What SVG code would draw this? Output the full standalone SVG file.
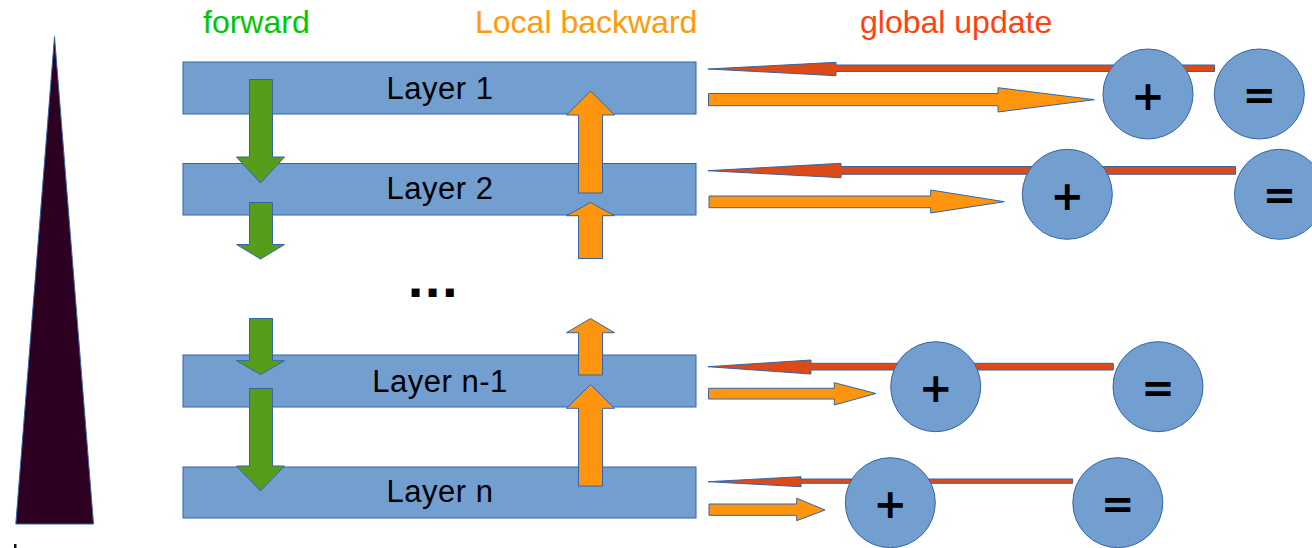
<svg xmlns="http://www.w3.org/2000/svg" width="1312" height="548" viewBox="0 0 1312 548">
  <style>
    .title { font-family: "Liberation Sans", Arial, sans-serif; font-size: 32px; }
    .layer { fill: #729fcf; stroke: #3465a4; stroke-width: 1; }
    .label { font-family: "Liberation Sans", Arial, sans-serif; font-size: 31px; letter-spacing: 0.5px; fill: #000; text-anchor: middle; }
    .op { fill: #729fcf; stroke: #3465a4; stroke-width: 1; }
    .sym { font-family: "DejaVu Sans", sans-serif; font-weight: bold; font-size: 40px; fill: #000; text-anchor: middle; }
    .fwd { fill: #579d1c; stroke: #3465a4; stroke-width: 1; }
    .bwd { fill: #ff950e; stroke: #3465a4; stroke-width: 1; }
    .upd { fill: #dc4a17; stroke: #3465a4; stroke-width: 1; }
  </style>

  <!-- depth wedge -->
  <g id="depth">
    <polygon points="54.5,36.5 15.8,524 93.5,524" fill="#2d0022" stroke="#3465a4" stroke-width="1"/>
    <rect x="14" y="544" width="2.5" height="4" fill="#111"/>
  </g>

  <!-- column headings -->
  <g id="headings">
    <text class="title" x="203" y="33" fill="#00c800">forward</text>
    <text class="title" x="475" y="33" fill="#ff9a0a">Local backward</text>
    <text class="title" x="860" y="33" fill="#ff420e">global update</text>
  </g>

  <!-- layers -->
  <g id="layer-1">
    <rect class="layer" x="183" y="62" width="513" height="52"/>
    <text class="label" x="440" y="99.3">Layer 1</text>
  </g>
  <g id="layer-2">
    <rect class="layer" x="183" y="163.5" width="513" height="51.5"/>
    <text class="label" x="440" y="199.3">Layer 2</text>
  </g>
  <g id="ellipsis">
    <text x="407" y="297" font-family="DejaVu Sans, sans-serif" font-weight="bold" font-size="45" fill="#000">...</text>
  </g>
  <g id="layer-n-1">
    <rect class="layer" x="183" y="355" width="513" height="52"/>
    <text class="label" x="440" y="391.7">Layer n-1</text>
  </g>
  <g id="layer-n">
    <rect class="layer" x="183" y="467" width="513" height="51"/>
    <text class="label" x="440" y="502.3">Layer n</text>
  </g>

  <!-- connectors -->
  <g id="connectors">
    <!-- forward pass (down) -->
    <polygon class="fwd" points="249.5,79.5 272.5,79.5 272.5,157 284.5,157 260.5,183 236.5,157 249.5,157"/>
    <polygon class="fwd" points="249.5,202.5 272.5,202.5 272.5,244.5 284.5,244.5 260.5,259 236.5,244.5 249.5,244.5"/>
    <polygon class="fwd" points="249.5,318.5 272.5,318.5 272.5,360.7 284.5,360.7 260.5,374.5 236.5,360.7 249.5,360.7"/>
    <polygon class="fwd" points="249.5,388.5 272.5,388.5 272.5,466 284.5,466 260.5,491 236.5,466 249.5,466"/>

    <!-- local backward pass (up) -->
    <polygon class="bwd" points="590.5,91 614.5,115 602.5,115 602.5,193 578.5,193 578.5,115 566.5,115"/>
    <polygon class="bwd" points="590.5,202.5 614.5,215.7 602.5,215.7 602.5,258.5 578.5,258.5 578.5,215.7 566.5,215.7"/>
    <polygon class="bwd" points="590.5,318.5 614.5,332.7 602.5,332.7 602.5,375 578.5,375 578.5,332.7 566.5,332.7"/>
    <polygon class="bwd" points="590.5,384.5 614.5,408.3 602.5,408.3 602.5,486 578.5,486 578.5,408.3 566.5,408.3"/>

    <!-- global update (back into layers) -->
    <polygon class="upd" points="708,69 836,62.3 836,65 1214.5,65 1214.5,71.5 836,71.5 836,75.7"/>
    <polygon class="upd" points="708,170.7 841,163.3 841,166.5 1235.5,166.5 1235.5,174.3 841,174.3 841,177.7"/>
    <polygon class="upd" points="708,366.7 811,360 811,363.3 1113.3,363.3 1113.3,370 811,370 811,374"/>
    <polygon class="upd" points="708,481.7 801,476.7 801,479 1072.7,479 1072.7,483.3 801,483.3 801,486.7"/>

    <!-- gradients out to the accumulators -->
    <polygon class="bwd" points="708.5,93.5 998,93.5 998,87.7 1094.3,99.7 998,112 998,105.7 708.5,105.7"/>
    <polygon class="bwd" points="709,196 930.7,196 930.7,190 1004.3,201.7 930.7,213 930.7,207.7 709,207.7"/>
    <polygon class="bwd" points="708.5,388.3 834.3,388.3 834.3,382.7 876,393.5 834.3,405 834.3,399 708.5,399"/>
    <polygon class="bwd" points="709,504 796.7,504 796.7,498.3 825,510 796.7,520.7 796.7,515.3 709,515.3"/>
  </g>

  <!-- accumulate / assign operators -->
  <g id="plus-1"><circle class="op" cx="1148" cy="94" r="45"/><text class="sym" x="1148" y="109.5">+</text></g>
  <g id="eq-1"><circle class="op" cx="1259.3" cy="94" r="45"/><text class="sym" x="1259.3" y="109">=</text></g>
  <g id="plus-2"><circle class="op" cx="1067.3" cy="194.3" r="45"/><text class="sym" x="1067.3" y="209.8">+</text></g>
  <g id="eq-2"><circle class="op" cx="1279.5" cy="194.3" r="45"/><text class="sym" x="1279.5" y="209.3">=</text></g>
  <g id="plus-n-1"><circle class="op" cx="935.7" cy="386.7" r="45"/><text class="sym" x="935.7" y="402.2">+</text></g>
  <g id="eq-n-1"><circle class="op" cx="1158" cy="386.7" r="45"/><text class="sym" x="1158" y="401.7">=</text></g>
  <g id="plus-n"><circle class="op" cx="890.3" cy="502.7" r="45"/><text class="sym" x="890.3" y="518.2">+</text></g>
  <g id="eq-n"><circle class="op" cx="1117.8" cy="502.7" r="45"/><text class="sym" x="1117.8" y="517.7">=</text></g>
</svg>
